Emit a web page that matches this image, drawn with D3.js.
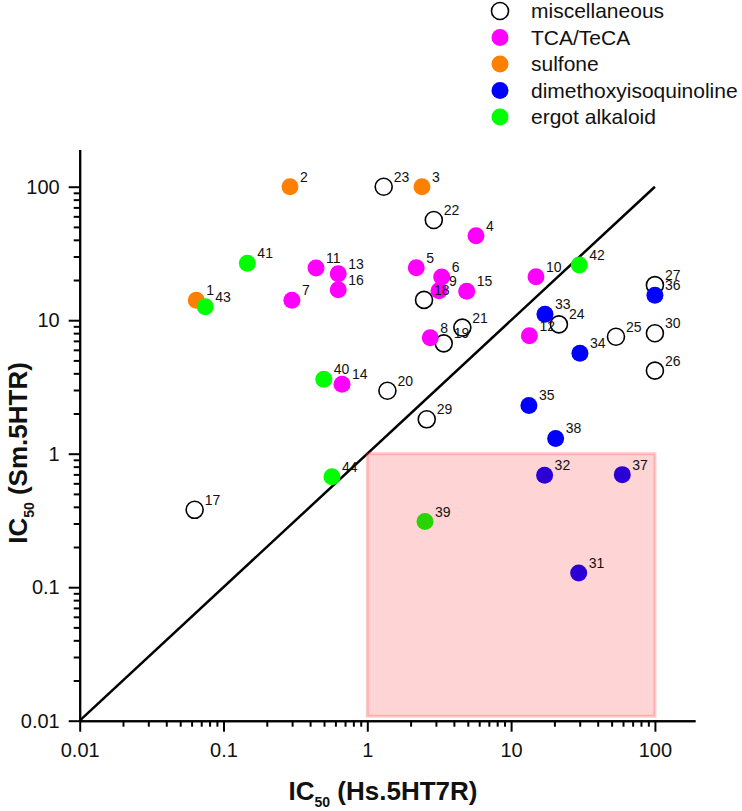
<!DOCTYPE html>
<html>
<head>
<meta charset="utf-8">
<script src="https://cdn.jsdelivr.net/npm/d3@7"></script>
<style>
  html, body { margin: 0; padding: 0; background: #fff; }
  svg { display: block; font-family: "Liberation Sans", Arial, sans-serif; }
</style>
</head>
<body>
<svg id="chart" width="742" height="811"></svg>
<script>
// ---- data (IC50 values, µM) ----
const categories = ["miscellaneous", "TCA/TeCA", "sulfone", "dimethoxyisoquinoline", "ergot alkaloid"];
const categoryColors = ["none", "#ff00ff", "#ff8000", "#0000ff", "#00ff00"];

const miscIds = [17, 18, 19, 20, 21, 22, 23, 24, 25, 26, 27, 29, 30];
const miscHs  = [0.063, 2.48, 3.40, 1.38, 4.58, 2.90, 1.30, 21.5, 53.6, 100, 100, 2.59, 100];
const miscSm  = [0.38, 14.2, 6.71, 2.96, 8.8, 56.3, 100, 9.3, 7.52, 4.19, 18.3, 1.81, 7.98];

const tcaIds = [4, 5, 6, 7, 8, 9, 10, 11, 12, 13, 14, 15, 16];
const tcaHs  = [5.70, 2.19, 3.29, 0.299, 2.74, 3.15, 14.9, 0.44, 13.4, 0.628, 0.667, 4.91, 0.628];
const tcaSm  = [43.0, 24.7, 21.1, 14.1, 7.4, 16.6, 21.2, 24.6, 7.65, 22.3, 3.31, 16.5, 16.9];

const sulfoneIds = [1, 2, 3];
const sulfoneHs  = [0.0647, 0.29, 2.40];
const sulfoneSm  = [14.1, 100, 100];

const dmiqIds = [31, 32, 33, 34, 35, 36, 37, 38];
const dmiqHs  = [29.5, 17.1, 17.2, 30.1, 13.3, 100, 59.3, 20.4];
const dmiqSm  = [0.128, 0.689, 11.1, 5.65, 2.30, 15.4, 0.697, 1.30];

const ergotIds = [39, 40, 41, 42, 43, 44];
const ergotHs  = [2.52, 0.498, 0.1465, 29.8, 0.0747, 0.568];
const ergotSm  = [0.31, 3.61, 26.7, 25.9, 12.6, 0.672];

const majorTicks = [0.01, 0.1, 1, 10, 100];
const tickLabels = ["0.01", "0.1", "1", "10", "100"];
const axisDomain = [0.01, 190];
const diagonal = [0.01, 100];
const boxHs = [1, 100];
const boxSm = [0.0108, 1];

// ---- build series table ----
const seriesIds = [miscIds, tcaIds, sulfoneIds, dmiqIds, ergotIds];
const seriesHs = [miscHs, tcaHs, sulfoneHs, dmiqHs, ergotHs];
const seriesSm = [miscSm, tcaSm, sulfoneSm, dmiqSm, ergotSm];
const points = [];
categories.forEach((c, ci) => {
  seriesIds[ci].forEach((id, i) => points.push({ id, hs: seriesHs[ci][i], sm: seriesSm[ci][i], ci }));
});

const minorTicks = [];
for (let d = 0.01; d < 100; d *= 10) {
  for (let k = 2; k <= 9; k++) minorTicks.push(+(d * k).toPrecision(3));
}

// ---- layout ----
const svg = d3.select("#chart");
const x = d3.scaleLog().domain(axisDomain).range([79.7, 695]);
const y = d3.scaleLog().domain(axisDomain).range([720.7, 149.5]);
const R = 8.5;

// diagonal line
svg.append("line")
  .attr("x1", x(diagonal[0])).attr("y1", y(diagonal[0]))
  .attr("x2", x(diagonal[1])).attr("y2", y(diagonal[1]))
  .attr("stroke", "#000").attr("stroke-width", 2.5);

// points
svg.append("g").selectAll("circle").data(points).join("circle")
  .attr("cx", d => x(d.hs)).attr("cy", d => y(d.sm)).attr("r", R)
  .attr("fill", d => d.ci === 0 ? "#fff" : categoryColors[d.ci])
  .attr("stroke", d => d.ci === 0 ? "#000" : "none")
  .attr("stroke-width", 1.6);

// highlight box
svg.append("rect")
  .attr("x", x(boxHs[0])).attr("y", y(boxSm[1]))
  .attr("width", x(boxHs[1]) - x(boxHs[0]))
  .attr("height", y(boxSm[0]) - y(boxSm[1]))
  .attr("fill", "rgba(255,0,0,0.17)")
  .attr("stroke", "rgba(255,70,70,0.28)").attr("stroke-width", 3);

// point labels
svg.append("g").selectAll("text").data(points).join("text")
  .attr("x", d => x(d.hs) + 10).attr("y", d => y(d.sm) - 5)
  .attr("font-size", 14).attr("fill", "#111")
  .text(d => d.id);

// axes
const fmt = d => tickLabels[majorTicks.indexOf(d)];
const gx = svg.append("g").attr("transform", `translate(0,${y(axisDomain[0])})`);
gx.call(d3.axisBottom(x).tickValues(majorTicks).tickFormat(fmt).tickSize(11).tickSizeOuter(0).tickPadding(11));
const gxm = svg.append("g").attr("transform", `translate(0,${y(axisDomain[0])})`);
gxm.call(d3.axisBottom(x).tickValues(minorTicks).tickFormat("").tickSize(6).tickSizeOuter(0));

const gy = svg.append("g").attr("transform", `translate(${x(axisDomain[0])},0)`);
gy.call(d3.axisLeft(y).tickValues(majorTicks).tickFormat(fmt).tickSize(11).tickSizeOuter(0).tickPadding(9));
const gym = svg.append("g").attr("transform", `translate(${x(axisDomain[0])},0)`);
gym.call(d3.axisLeft(y).tickValues(minorTicks).tickFormat("").tickSize(6).tickSizeOuter(0));

[gx, gxm, gy, gym].forEach(g => {
  g.selectAll("path.domain").attr("stroke", "#000").attr("stroke-width", 2);
  g.selectAll(".tick line").attr("stroke", "#000").attr("stroke-width", 2);
  g.selectAll(".tick text").attr("font-size", 20).attr("fill", "#111")
    .attr("font-family", "'Liberation Sans', Arial, sans-serif");
});

// axis titles
const xt = svg.append("text").attr("x", 383).attr("y", 800)
  .attr("text-anchor", "middle").attr("font-size", 26).attr("font-weight", "bold").attr("fill", "#111");
xt.append("tspan").text("IC");
xt.append("tspan").attr("font-size", 14).attr("dy", 7).text("50");
xt.append("tspan").attr("dy", -7).text(" (Hs.5HT7R)");

const yt = svg.append("text").attr("transform", "translate(27,453) rotate(-90)")
  .attr("text-anchor", "middle").attr("font-size", 26).attr("font-weight", "bold").attr("fill", "#111");
yt.append("tspan").text("IC");
yt.append("tspan").attr("font-size", 14).attr("dy", 7).text("50");
yt.append("tspan").attr("dy", -7).text(" (Sm.5HTR)");

// legend
const lg = svg.append("g").selectAll("g").data(categories).join("g")
  .attr("transform", (d, i) => `translate(500,${11 + i * 26.5})`);
lg.append("circle").attr("r", R)
  .attr("fill", (d, i) => i === 0 ? "#fff" : categoryColors[i])
  .attr("stroke", (d, i) => i === 0 ? "#000" : "none").attr("stroke-width", 1.6);
lg.append("text").attr("x", 31).attr("y", 7).attr("font-size", 21).attr("fill", "#111").text(d => d);
</script>
</body>
</html>
